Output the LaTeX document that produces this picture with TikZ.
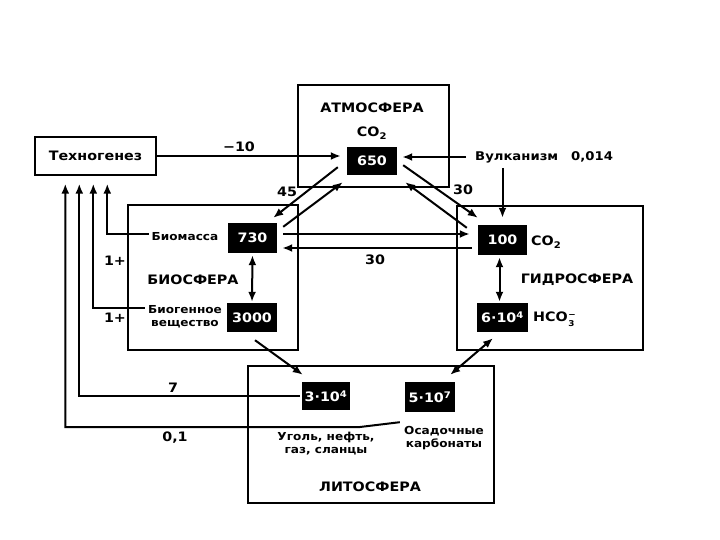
\documentclass[tikz,border=0pt]{standalone}
\usepackage{fontspec}
\setmainfont{DejaVu Sans}[BoldFeatures={FakeStretch=1.1}]
\usetikzlibrary{arrows.meta,calc}
\begin{document}
\begin{tikzpicture}[x=1pt,y=-1pt,
  every node/.style={font=\bfseries\fontsize{11}{13}\selectfont, inner sep=0pt},
  region/.style={draw, line width=1.4pt, rectangle},
  val/.style={fill=black, text=white, font=\bfseries\fontsize{13}{15}\selectfont},
  title/.style={font=\bfseries\fontsize{13}{15}\selectfont},
  small/.style={font=\bfseries\fontsize{11}{13}\selectfont, align=center},
  lab/.style={font=\bfseries\fontsize{13}{15}\selectfont},
  arr/.style={-{Latex[length=10pt,width=8pt]}, line width=2pt},
  darr/.style={{Latex[length=10pt,width=8pt]}-{Latex[length=10pt,width=8pt]}, line width=2pt}]
\useasboundingbox (0,0) rectangle (720,540);

% regions
\node[region, minimum width=151pt, minimum height=102pt] (atm) at (373.5,136) {};
\node[region, minimum width=170pt, minimum height=145pt] (bio) at (213,277.5) {};
\node[region, minimum width=186pt, minimum height=144pt] (hyd) at (550,278) {};
\node[region, minimum width=246pt, minimum height=137pt] (lit) at (371,434.5) {};
\node[region, minimum width=121pt, minimum height=38pt, title] (tech) at (95.5,156) {Техногенез};

% titles
\node[title] (atmT) at (372,108) {АТМОСФЕРА};
\node[title] (bioT) at (193,280) {БИОСФЕРА};
\node[title] (hydT) at (577,280) {ГИДРОСФЕРА};
\node[title] (litT) at (370,487) {ЛИТОСФЕРА};

% values
\node[val, minimum width=50pt, minimum height=28pt] (v650) at (372,161) {650};
\node[val, minimum width=49pt, minimum height=30pt] (v730) at (252.5,238) {730};
\node[val, minimum width=50pt, minimum height=29pt] (v3000) at (252,317.5) {3000};
\node[val, minimum width=49pt, minimum height=30pt] (v100) at (502.5,240) {100};
\node[val, minimum width=51pt, minimum height=29pt] (v6e4) at (502.5,317.5) {6·10\textsuperscript{4}};
\node[val, minimum width=48pt, minimum height=28pt] (v3e4) at (326,396) {3·10\textsuperscript{4}};
\node[val, minimum width=50pt, minimum height=30pt] (v5e7) at (430,397) {5·10\textsuperscript{7}};

% side labels
\node[lab] (co2a) at (372,133) {CO\textsubscript{2}};
\node[lab, anchor=west] (co2b) at (531,242) {CO\textsubscript{2}};
\node[lab, anchor=west] (hco3) at (533,319) {HCO\kern0.5pt\raisebox{-4.5pt}{\fontsize{8}{9.5}\selectfont\shortstack[l]{−\\3}}};
\node[lab, anchor=west, font=\bfseries\fontsize{12}{14}\selectfont] (volc) at (475,157) {Вулканизм\hspace{13pt}0,014};
\node[small] (bm) at (185,237) {Биомасса};
\node[small] (bg) at (185,317) {Биогенное\\вещество};
\node[small] (coal) at (326,444) {Уголь, нефть,\\газ, сланцы};
\node[small] (carb) at (444,438) {Осадочные\\карбонаты};

% number labels
\node[lab] (lm10) at (239,147) {−10};
\node[lab] (l45) at (287,192) {45};
\node[lab] (l30a) at (463,190) {30};
\node[lab] (l30b) at (375,260) {30};
\node[lab] (l1a) at (115,261) {1+};
\node[lab] (l1b) at (115,318) {1+};
\node[lab] (l7) at (173,388) {7};
\node[lab] (l01) at (175,438) {0,1};

% connectors
\draw[arr] (tech.east) -- ($(v650.west)+(-6,-5)$);
\draw[arr, shorten <=9pt] (volc.west) -- ($(v650.east)+(5,-4)$);
\draw[arr] (v100.north |- volc.south) ++(0,5) -- ($(v100.north)+(0,-7)$);

\draw[arr] ($(v650.south west)+(-9,-8)$) -- ($(v730.north east)+(-4,-5)$);
\draw[arr] ($(v730.north east)+(6,4)$) -- ($(v650.south west)+(-4,7)$);
\draw[arr] ($(v650.south east)+(6,-10)$) -- ($(v100.north west)+(0,-7)$);
\draw[arr] ($(v100.north west)+(-11,3)$) -- ($(v650.south east)+(8,7)$);
\draw[arr] ($(v730.east)+(6,-4)$) -- ($(v100.west)+(-8,-6)$);
\draw[arr] ($(v100.west)+(-6,8)$) -- ($(v730.east)+(5,10)$);

\draw[darr, shorten <=2pt, shorten >=1pt] (v730.south) -- (v3000.north);
\draw[darr, shorten <=2pt, shorten >=1pt] ($(v100.south)+(-3,0)$) -- ($(v6e4.north)+(-3,0)$);
\draw[arr] ($(v3000.south)+(3,8)$) -- ($(v3e4.north west)+(1,-7)$);
\draw[darr] ($(v6e4.south)+(-9.5,6)$) -- ($(v5e7.north east)+(-5,-7)$);

% flows to Technogenesis
\coordinate (t1) at ($(tech.south west)+(31,8)$);
\coordinate (t2) at ($(tech.south west)+(45,8)$);
\coordinate (t3) at ($(tech.south west)+(59,8)$);
\coordinate (t4) at ($(tech.south west)+(73,8)$);
\draw[arr] ($(bm.west)+(-3,-3)$) -| (t4);
\draw[arr] ($(bg.west)+(-3,-9)$) -| (t3);
\draw[arr] ($(v3e4.west)+(-2,0)$) -| (t2);
\coordinate (k01) at (360,427);
\draw[arr] ($(v5e7.south west)+(-5,10)$) -- (k01) -| (t1);
\end{tikzpicture}
\end{document}
